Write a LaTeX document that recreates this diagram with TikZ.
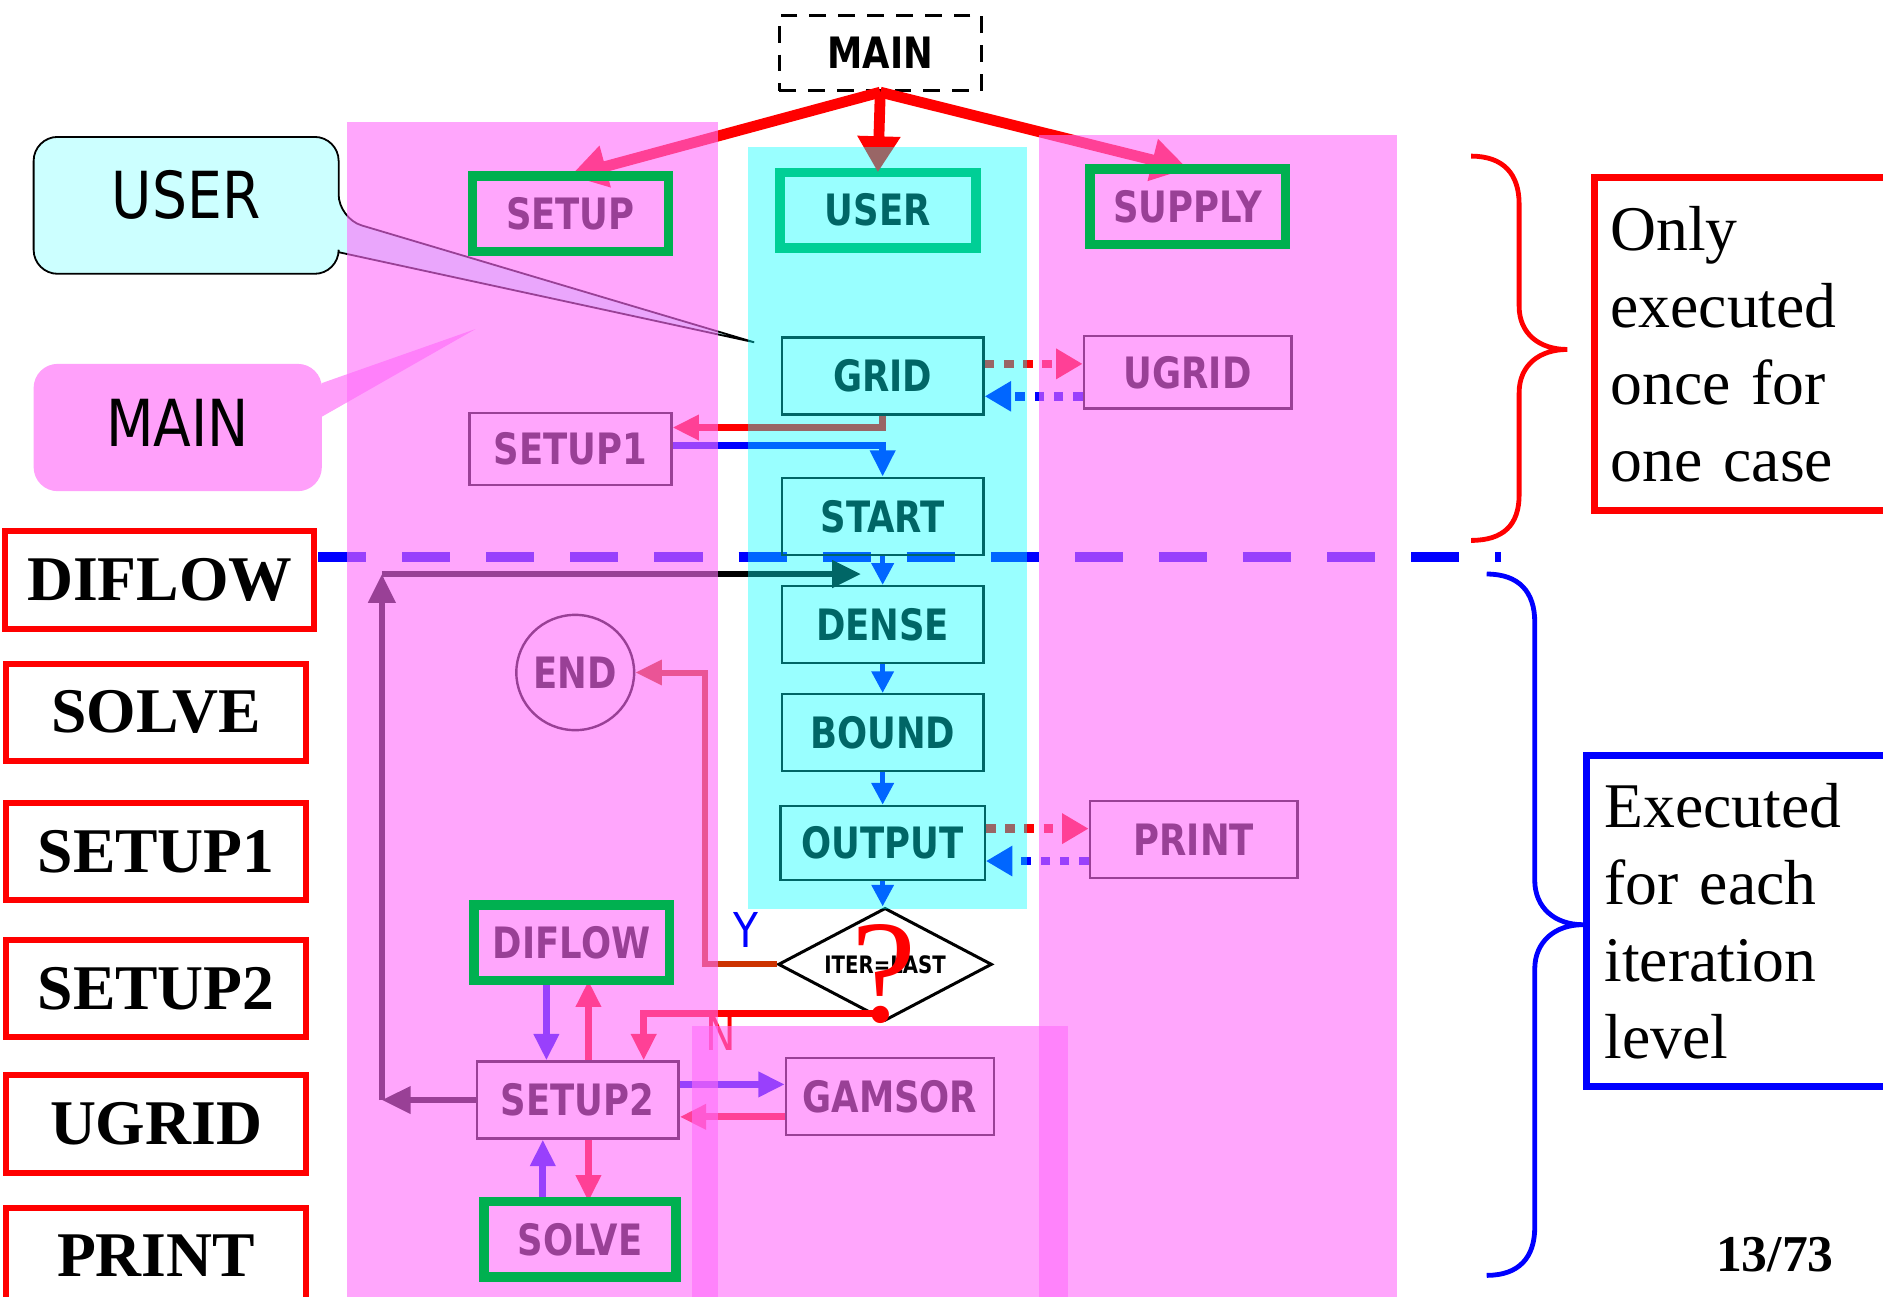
\documentclass[tikz,border=0pt]{standalone}
\usepackage{fontspec}
\setmainfont{Liberation Serif}
\newfontfamily\boxfont[FakeStretch=0.82]{DejaVu Sans}
\newfontfamily\notefont[FakeStretch=0.85]{DejaVu Sans}
\usetikzlibrary{arrows.meta,shapes.geometric}

\definecolor{colpink}{RGB}{255,107,250}
\definecolor{colcyan}{RGB}{0,255,255}
\definecolor{notecyan}{RGB}{204,255,255}
\definecolor{notepink}{RGB}{255,160,250}
\definecolor{boxgreen}{RGB}{0,176,80}
\definecolor{rust}{RGB}{204,51,0}

\pgfdeclarelayer{shade}
\pgfdeclarelayer{front}
\pgfsetlayers{main,shade,front}

\tikzset{
  tbox/.style={draw=black,line width=2pt,minimum width=168pt,minimum height=64pt,inner sep=0pt,
    font=\boxfont\bfseries\fontsize{36}{36}\selectfont},
  gbox/.style={tbox,draw=boxgreen,line width=8pt,outer sep=0pt,minimum width=163pt,minimum height=63pt},
  gframe/.style={draw=boxgreen,line width=8pt},
  lbox/.style={draw=red,line width=5pt,minimum width=250pt,minimum height=81pt,inner sep=0pt,
    font=\bfseries\fontsize{53}{53}\selectfont},
  notetext/.style={font=\notefont\fontsize{54}{54}\selectfont},
  ynmark/.style={font=\notefont\fontsize{40}{40}\selectfont},
  mainarr/.style={red,line width=9pt,-{Triangle[length=30pt,width=34pt]}},
  flowarr/.style={blue,line width=4pt,-{Triangle[length=18pt,width=18pt]}},
  pairarr/.style={line width=6pt,-{Triangle[length=22pt,width=20pt]}},
  dotarr/.style={line width=7pt,dash pattern=on 8pt off 8pt,-{Triangle[length=22pt,width=24pt]}},
  looparr/.style={black,line width=5pt,-{Triangle[length=24pt,width=22pt]}}
}

\begin{document}
\begin{tikzpicture}[x=1pt,y=-1pt]
\useasboundingbox (0,0) rectangle (1568,1080);
\clip (0,0) rectangle (1568,1080);

% 说明框 USER / MAIN
\draw[fill=notecyan,line width=1.5pt] (155,114) [rounded corners=20pt] -- (282,114) -- (282,182)
  [sharp corners] -- (628,285) -- (282,210) [rounded corners=20pt] -- (282,228) -- (28,228) -- (28,114) -- cycle;
\node[notetext] (usernote) at (155,162) {USER};
\fill[notepink] (148,303) [rounded corners=20pt] -- (268,303) [sharp corners] -- (268,319)
  -- (396,274) -- (268,347) [rounded corners=20pt] -- (268,409) -- (28,409) -- (28,303) -- cycle;
\node[notetext] (mainnote) at (148,352) {MAIN};

% 左侧子程序标签
\node[lbox,minimum width=257pt] (lbDIFLOW) at (133,483) {DIFLOW};
\foreach \name/\y in {SOLVE/593,SETUP1/709,SETUP2/823,UGRID/936,PRINT/1046}
  \node[lbox] (lb\name) at (130,\y) {\name};

% 分隔虚线
\draw[blue,line width=8pt,dash pattern=on 40pt off 30pt] (265,464) -- (1250,464);

% 子程序框
\node[draw=black,line width=2.5pt,dash pattern=on 14pt off 10pt,minimum width=168pt,minimum height=63pt,
  font=\boxfont\bfseries\fontsize{36}{36}\selectfont] (main) at (733,44) {MAIN};
\node[gbox] (setup) at (475,178) {SETUP};
\node[gbox] (user) at (731,175) {USER};
\node[gbox] (supply) at (989,172) {SUPPLY};
\node[tbox] (grid) at (735,313) {GRID};
\node[tbox,minimum width=173pt,minimum height=60pt] (ugrid) at (989,310) {UGRID};
\node[tbox,minimum height=60pt] (setup1) at (475,374) {SETUP1};
\node[tbox] (start) at (735,430) {START};
\node[tbox] (dense) at (735,520) {DENSE};
\node[tbox] (bound) at (735,610) {BOUND};
\node[tbox,minimum width=170pt,minimum height=62pt] (output) at (735,702) {OUTPUT};
\node[tbox,minimum width=173pt] (print) at (994,699) {PRINT};
\node[draw=black,line width=2pt,ellipse,minimum width=92pt,minimum height=96pt,inner sep=0pt,
  font=\boxfont\bfseries\fontsize{36}{36}\selectfont] (endnode) at (479,560) {END};
\node[draw=black,line width=2.5pt,diamond,aspect=1.9,minimum width=178pt,minimum height=94pt,inner sep=0pt,
  font=\boxfont\bfseries\fontsize{20}{20}\selectfont] (iter) at (737,803) {ITER=LAST};
\node[text=red,anchor=base,font=\fontsize{122}{122}\selectfont] (qmark) at (736,851) {?};
\node[gbox] (diflow) at (476,785) {DIFLOW};
\node[tbox] (setup2) at (481,916) {SETUP2};
\node[tbox,minimum width=173pt] (gamsor) at (741,913) {GAMSOR};
\node[gbox,minimum width=160pt] (solve) at (483,1032) {SOLVE};
\node[ynmark,text=blue] (ylab) at (621,774) {Y};
\node[ynmark,text=red] (nlab) at (600,860) {N};

% MAIN 调用
\draw[mainarr] (main.south) -- (setup.north);
\draw[mainarr] (main.south) -- (user.north);
\draw[mainarr] (main.south) -- (supply.north);

% 主流程
\draw[pairarr,red] (grid.south) |- ([yshift=18pt]setup1.east);
\draw[pairarr,blue] ([yshift=3pt]setup1.east) -| (start.north);
\draw[flowarr] (start.south) -- (dense.north);
\draw[flowarr] (dense.south) -- (bound.north);
\draw[flowarr] (bound.south) -- (output.north);
\draw[flowarr] (output.south) -- (output.south |- iter.north);

% 往返调用
\draw[dotarr,red] ([yshift=10pt]grid.east) -- ([yshift=10pt]grid.east -| ugrid.west);
\draw[dotarr,blue] ([yshift=-17pt]grid.east -| ugrid.west) -- ([yshift=-17pt]grid.east);
\draw[dotarr,red] ([yshift=12pt]output.east) -- ([yshift=12pt]output.east -| print.west);
\draw[dotarr,blue] ([yshift=-15pt]output.east -| print.west) -- ([yshift=-15pt]output.east);

% 判断分支
\draw[pairarr,rust,line width=5pt] (iter.west) -| ([xshift=58pt]endnode.east) -- (endnode.east);
\draw[pairarr,red] ([yshift=7pt]iter.south) -| ([xshift=55pt]setup2.north);

% SETUP2 周围
\draw[pairarr,blue] ([xshift=-21pt]diflow.south) -- ([xshift=-21pt]diflow.south |- setup2.north);
\draw[pairarr,red] ([xshift=14pt]diflow.south |- setup2.north) -- ([xshift=14pt]diflow.south);
\draw[pairarr,blue] ([yshift=13pt]setup2.east) -- ([yshift=13pt]setup2.east -| gamsor.west);
\draw[pairarr,red] ([yshift=-14pt]setup2.east -| gamsor.west) -- ([yshift=-14pt]setup2.east);
\draw[pairarr,blue] ([xshift=-31pt]solve.north) -- ([xshift=-31pt]solve.north |- setup2.south);
\draw[pairarr,red] ([xshift=7pt]solve.north |- setup2.south) -- ([xshift=7pt]solve.north);

% 迭代回路
\coordinate (loopa) at (318,916);
\coordinate (loopb) at (318,478);
\coordinate (loopc) at (717,478);
\draw[looparr] (setup2.west) -- (loopa);
\draw[looparr] (loopa) -- (loopb);
\draw[looparr] (loopb) -- (loopc);

% 右侧括号与说明
\draw[red,line width=4pt] (1225,130) .. controls (1252,130) and (1265,145) .. (1265,170) -- (1265,255)
  .. controls (1265,278) and (1282,291) .. (1305,291) .. controls (1282,291) and (1265,304) .. (1265,327)
  -- (1265,412) .. controls (1265,437) and (1252,450) .. (1225,450);
\draw[blue,line width=4pt] (1238,478) .. controls (1265,478) and (1278,493) .. (1278,518) -- (1278,733)
  .. controls (1278,756) and (1295,770) .. (1318,770) .. controls (1295,770) and (1278,784) .. (1278,807)
  -- (1278,1022) .. controls (1278,1047) and (1265,1062) .. (1238,1062);
\node[draw=red,line width=6pt,anchor=north west,text width=240pt,inner xsep=13pt,inner ysep=0pt,
  minimum height=277pt,align=left,font=\fontsize{53}{64}\selectfont] (oncenote) at (1325,145)
  {Only\\executed\\once for\\one case};
\node[draw=blue,line width=6pt,anchor=north west,text width=240pt,inner xsep=15pt,inner ysep=0pt,
  minimum height=276pt,align=left,font=\fontsize{53}{64}\selectfont] (iternote) at (1318,626)
  {Executed\\for each\\iteration\\level};
\node[font=\bfseries\fontsize{43}{43}\selectfont] (pagenum) at (1478,1045) {13/73};

% 彩色区域
\begin{pgfonlayer}{shade}
  \fill[colpink,opacity=0.6] (289,102) rectangle (598,1080);
  \fill[colcyan,opacity=0.4] (623,122) rectangle (855,757);
  \fill[colpink,opacity=0.6] (865,112) rectangle (1163,1080);
  \fill[colpink,opacity=0.6] (576,854) rectangle (889,1080);
\end{pgfonlayer}

% 绿框
\begin{pgfonlayer}{front}
  \foreach \n in {setup,supply,diflow,solve}
    \draw[gframe] (\n.south west) rectangle (\n.north east);
\end{pgfonlayer}

\end{tikzpicture}
\end{document}
